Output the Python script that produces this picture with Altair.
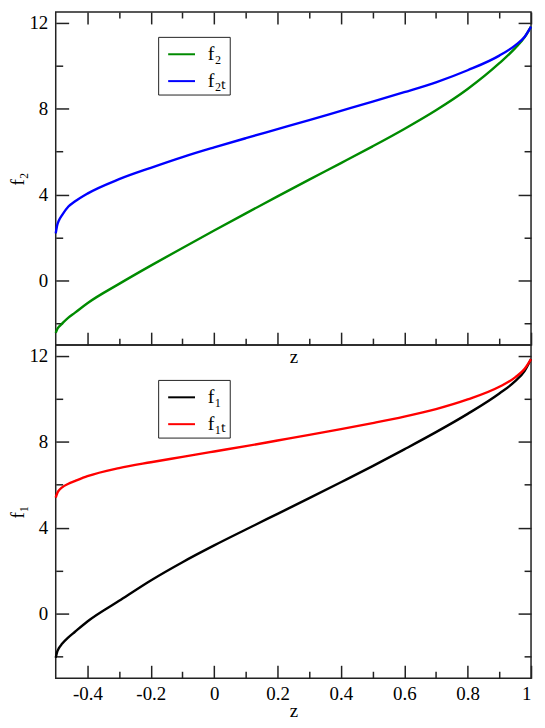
import altair as alt
import pandas as pd

# ---- data ----
z = [-0.5, -0.495, -0.49, -0.48, -0.46, -0.44, -0.4, -0.3, -0.2, -0.1, 0.0,
     0.1, 0.2, 0.3, 0.4, 0.5, 0.6, 0.7, 0.8, 0.9, 0.95, 0.98, 1.0]

f2 = [-2.43, -2.25, -2.15, -2.0, -1.72, -1.5, -1.05, -0.15, 0.7, 1.52, 2.33,
      3.13, 3.92, 4.7, 5.47, 6.25, 7.06, 7.93, 8.92, 10.12, 10.82, 11.33, 11.82]
f2t = [2.2, 2.6, 2.8, 3.05, 3.45, 3.68, 4.05, 4.72, 5.25, 5.75, 6.2,
       6.63, 7.05, 7.47, 7.9, 8.33, 8.77, 9.23, 9.79, 10.47, 10.95, 11.35, 11.82]
f1 = [-2.05, -1.75, -1.6, -1.4, -1.1, -0.85, -0.36, 0.6, 1.55, 2.4, 3.18,
      3.92, 4.65, 5.38, 6.12, 6.87, 7.65, 8.45, 9.3, 10.25, 10.82, 11.3, 11.85]
f1t = [5.4, 5.62, 5.74, 5.88, 6.05, 6.17, 6.4, 6.78, 7.05, 7.3, 7.55,
       7.8, 8.06, 8.32, 8.59, 8.87, 9.17, 9.52, 9.97, 10.56, 11.0, 11.4, 11.85]

top_names = ["f\u2082", "f\u2082\u209c"]
bot_names = ["f\u2081", "f\u2081\u209c"]
top_colors = ["#008b00", "#0000ff"]
bot_colors = ["#000000", "#ff0000"]

x_major = [-0.4, -0.2, 0.0, 0.2, 0.4, 0.6, 0.8, 1.0]
x_minor = [-0.3, -0.1, 0.1, 0.3, 0.5, 0.7, 0.9]
y_major = [0, 4, 8, 12]
y_minor = [-2, 2, 6, 10]

FONT = "Liberation Serif"
TICK = "#222222"
MINUS = "\u2212"
W = 478
H = 335


def long_df(names, a, b):
    rows = []
    for n, vals in zip(names, [a, b]):
        for zz, v in zip(z, vals):
            rows.append({"z": zz, "v": v, "s": n})
    return pd.DataFrame(rows)


def tick_axis(orient, values, size, offset, **kw):
    base = dict(orient=orient, values=values, offset=offset, tickSize=size,
                domain=False, grid=False, tickColor=TICK, tickWidth=1.5,
                labels=False, title=None, minExtent=0)
    base.update(kw)
    return alt.Axis(**base)


def panel(df, names, colors, ytitle, show_top, show_xlabels, legend_y, xtitle_pad):
    xs = alt.Scale(domain=[-0.5, 1.0], nice=False, zero=False)
    ys = alt.Scale(domain=[-3, 12.5], nice=False, zero=False)

    xa_major = tick_axis(
        "bottom", x_major, 13, -13, labels=show_xlabels, labelPadding=6,
        labelFont=FONT, labelFontSize=19, labelColor="black", labelFlush=True,
        labelExpr="replace(format(datum.value, '~g'), '" + MINUS + "', '-')",
        title="z", titleFont=FONT, titleFontSize=19, titleFontWeight="normal",
        titleColor="black", titlePadding=xtitle_pad)
    ya_major = tick_axis(
        "left", y_major, 13, -13, labels=True, labelPadding=8,
        labelFont=FONT, labelFontSize=19, labelColor="black",
        title=ytitle, titleFont=FONT, titleFontSize=19, titleFontWeight="normal",
        titleColor="black", titlePadding=1)

    lines = alt.Chart(df).mark_line(strokeWidth=2.4, interpolate="monotone").encode(
        x=alt.X("z:Q", scale=xs, axis=xa_major),
        y=alt.Y("v:Q", scale=ys, axis=ya_major),
        color=alt.Color("s:N", scale=alt.Scale(domain=names, range=colors),
                        legend=alt.Legend(orient="none", legendX=103, legendY=legend_y,
                                          title=None, direction="vertical",
                                          strokeColor=TICK, fillColor="white",
                                          padding=3, symbolType="M-0.55,0H1.45",
                                          symbolSize=729, symbolStrokeWidth=2,
                                          labelFont=FONT, labelFontSize=20,
                                          labelColor="black", labelOffset=18,
                                          rowPadding=2)),
        order=alt.Order("z:Q"),
    )
    # inner minor ticks on the bottom edge (pointing up) and the left edge
    minor = alt.Chart(df).mark_point(opacity=0).encode(
        x=alt.X("z:Q", scale=xs, axis=tick_axis("top", x_minor, 7, -H)),
        y=alt.Y("v:Q", scale=ys, axis=tick_axis("left", y_minor, 7, -7)),
    )
    # inner ticks on the top edge (pointing down) and the right edge (pointing left)
    right_major = alt.Chart(df).mark_point(opacity=0).encode(
        x=alt.X("z:Q", scale=xs,
                axis=tick_axis("bottom", x_major, 12, -H) if show_top else None),
        y=alt.Y("v:Q", scale=ys, axis=tick_axis("left", y_major, 13, -W)),
    )
    right_minor = alt.Chart(df).mark_point(opacity=0).encode(
        x=alt.X("z:Q", scale=xs,
                axis=tick_axis("bottom", x_minor, 6, -H) if show_top else None),
        y=alt.Y("v:Q", scale=ys, axis=tick_axis("left", y_minor, 7, -W)),
    )
    return alt.layer(lines, minor, right_major, right_minor).resolve_axis(
        x="independent", y="independent").properties(width=W, height=H)


top = panel(long_df(top_names, f2, f2t), top_names, top_colors, "f\u2082",
            True, False, 25, 2)
bottom = panel(long_df(bot_names, f1, f1t), bot_names, bot_colors, "f\u2081",
               False, True, 35, -2)

chart = alt.vconcat(top, bottom, spacing=0, bounds="flush").resolve_scale(
    color="independent").configure_view(stroke=TICK, strokeWidth=1.5).properties(
    padding=0, background="white")

chart.save("out.html", embed_options={"renderer": "svg", "actions": False})
